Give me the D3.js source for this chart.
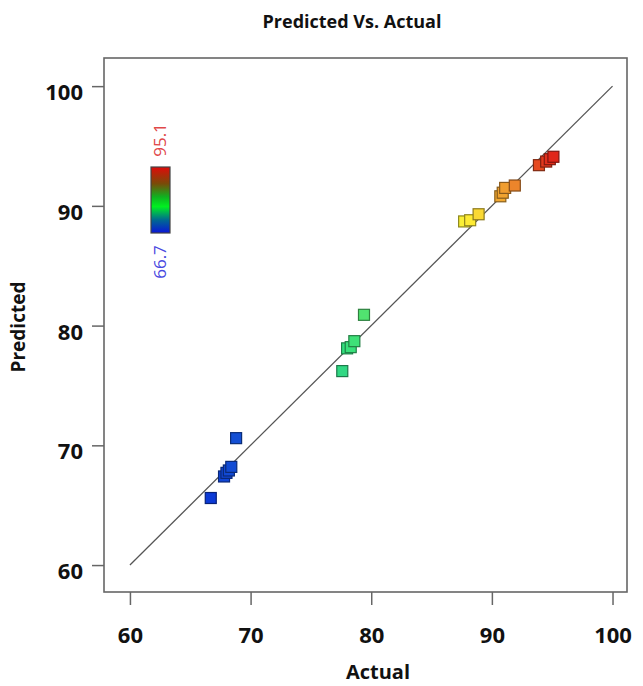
<!doctype html>
<html>
<head>
<script src="https://cdnjs.cloudflare.com/ajax/libs/d3/7.8.5/d3.min.js"></script>
<style>
body { margin: 0; background: #fff; }
text { font-family: "Open Sans", "Segoe UI", sans-serif; }
</style>
</head>
<body>
<svg id="chart" width="643" height="686"></svg>
<script>
// values
var actual    = [66.7, 68.8, 67.8, 68.0, 68.2, 68.4, 77.6, 79.4, 78.0, 78.3, 78.6, 87.7, 88.2, 88.9, 90.7, 90.9, 91.1, 91.9, 93.9, 94.5, 94.8, 95.1];
var predicted = [65.6, 70.6, 67.4, 67.7, 67.9, 68.2, 76.2, 80.9, 78.1, 78.2, 78.7, 88.7, 88.8, 89.3, 90.8, 91.1, 91.5, 91.7, 93.4, 93.7, 93.9, 94.1];
var ticks = [60, 70, 80, 90, 100];
var colorRange = [66.7, 95.1];

var svg = d3.select("#chart");
var pLeft = 104, pRight = 627, pTop = 58, pBottom = 592;

var x = d3.scaleLinear().domain([57.85, 101.2]).range([pLeft, pRight]);
var y = d3.scaleLinear().domain([57.75, 102.35]).range([pBottom, pTop]);

var color = d3.scaleLinear()
  .domain([66.7, 72, 78, 84, 88, 91, 95.1])
  .range(["#0c3ad6", "#1f6fd0", "#32e07e", "#b8ee40", "#fff034", "#f0a030", "#e0261a"]);

// frame
svg.append("rect")
  .attr("x", pLeft).attr("y", pTop)
  .attr("width", pRight - pLeft).attr("height", pBottom - pTop)
  .attr("fill", "none").attr("stroke", "#666").attr("stroke-width", 1.6);

// axes
var xAxis = svg.append("g").attr("transform", "translate(0," + pBottom + ")")
  .call(d3.axisBottom(x).tickValues(ticks).tickSize(13).tickPadding(10));
var yAxis = svg.append("g").attr("transform", "translate(" + pLeft + ",0)")
  .call(d3.axisLeft(y).tickValues(ticks).tickSize(12).tickPadding(9));

[xAxis, yAxis].forEach(function(a) {
  a.select(".domain").remove();
  a.selectAll("line").attr("stroke", "#666").attr("stroke-width", 1.5);
  a.selectAll("text")
    .attr("fill", "#111")
    .style("font-size", "22px")
    .style("font-weight", "700")
    .style("font-family", "'Open Sans', sans-serif");
});
xAxis.selectAll("text").attr("y", 51).attr("dy", 0);
yAxis.selectAll("text").attr("dy", "0.62em");

// diagonal
svg.append("line")
  .attr("x1", x(60)).attr("y1", y(60))
  .attr("x2", x(100)).attr("y2", y(100))
  .attr("stroke", "#555").attr("stroke-width", 1.3);

// points
var pts = actual.map(function(a, i) { return {a: a, p: predicted[i]}; });
var s = 11;
svg.append("g").selectAll("rect")
  .data(pts)
  .enter()
  .append("rect")
  .attr("x", d => x(d.a) - s / 2)
  .attr("y", d => y(d.p) - s / 2)
  .attr("width", s).attr("height", s)
  .attr("fill", d => color(d.a))
  .attr("stroke", d => d3.color(color(d.a)).darker(1.6))
  .attr("stroke-width", 1.2);

// colour legend
var defs = svg.append("defs");
var grad = defs.append("linearGradient").attr("id", "lg")
  .attr("x1", 0).attr("y1", 0).attr("x2", 0).attr("y2", 1);
[[0, "#e00a0a"], [0.25, "#7a4a08"], [0.45, "#10b020"], [0.6, "#00f020"], [0.8, "#006a90"], [1, "#0a14d8"]]
  .forEach(function(st) { grad.append("stop").attr("offset", st[0]).attr("stop-color", st[1]); });

svg.append("rect")
  .attr("x", 151).attr("y", 167).attr("width", 19).attr("height", 66)
  .attr("fill", "url(#lg)").attr("stroke", "#444").attr("stroke-width", 1.2);

svg.append("text")
  .attr("transform", "translate(166,140) rotate(-90)")
  .attr("text-anchor", "middle")
  .attr("fill", "#e04848")
  .style("font-size", "17px")
  .text(colorRange[1].toFixed(1));
svg.append("text")
  .attr("transform", "translate(166,262) rotate(-90)")
  .attr("text-anchor", "middle")
  .attr("fill", "#4848e0")
  .style("font-size", "17px")
  .text(colorRange[0].toFixed(1));

// titles
svg.append("text")
  .attr("x", 352).attr("y", 28)
  .attr("text-anchor", "middle")
  .style("font-size", "18px").style("font-weight", "700")
  .attr("fill", "#111")
  .text("Predicted Vs. Actual");

svg.append("text")
  .attr("x", 378).attr("y", 679)
  .attr("text-anchor", "middle")
  .style("font-size", "20px").style("font-weight", "700")
  .attr("fill", "#111")
  .text("Actual");

svg.append("text")
  .attr("transform", "translate(25,327) rotate(-90)")
  .attr("text-anchor", "middle")
  .style("font-size", "19px").style("font-weight", "700")
  .attr("fill", "#111")
  .text("Predicted");
</script>
</body>
</html>
